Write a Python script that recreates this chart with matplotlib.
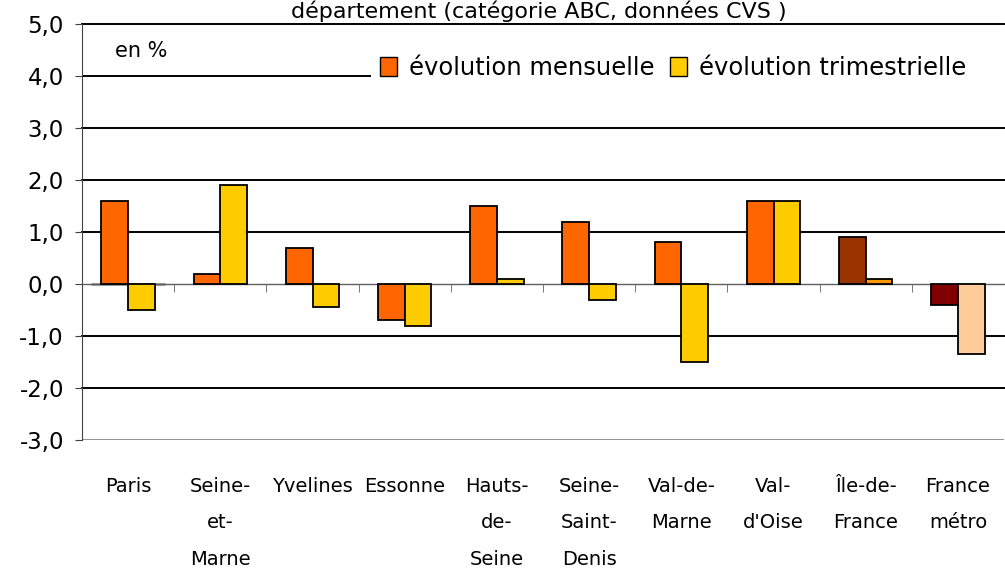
import matplotlib.pyplot as plt
import numpy as np

# Données (en %)
departements = ["Paris", "Seine-\net-\nMarne", "Yvelines", "Essonne",
                "Hauts-\nde-\nSeine", "Seine-\nSaint-\nDenis", "Val-de-\nMarne",
                "Val-\nd'Oise", "Île-de-\nFrance", "France\nmétro"]
evol_mensuelle = [1.6, 0.2, 0.7, -0.7, 1.5, 1.2, 0.8, 1.6, 0.9, -0.4]
evol_trimestrielle = [-0.5, 1.9, -0.45, -0.8, 0.1, -0.3, -1.5, 1.6, 0.1, -1.35]
y_ticks = [-3, -2, -1, 0, 1, 2, 3, 4, 5]

couleurs_m = ["#FF6600"] * 8 + ["#993300", "#800000"]
couleurs_t = ["#FFCC00"] * 8 + ["#FF9900", "#FFCC99"]

plt.rcParams['font.family'] = 'DejaVu Sans'

fig = plt.figure(figsize=(10.05, 5.72), dpi=100)
ax = fig.add_axes([82/1005, 1 - 440/572, 922/1005, 416/572])

x = np.arange(len(departements))
w = 0.29
ax.bar(x - w/2, evol_mensuelle, w, color=couleurs_m, edgecolor='black', lw=1.3, zorder=3)
ax.bar(x + w/2, evol_trimestrielle, w, color=couleurs_t, edgecolor='black', lw=1.3, zorder=3)

ax.set_xlim(-0.5, len(departements) - 0.5)
ax.set_ylim(-3, 5)

# grille horizontale (la ligne 4,0 s'arrête avant la légende)
for v in y_ticks:
    if v == 4:
        ax.axhline(v, xmax=0.312, color='black', lw=1.4, zorder=1)
    elif v not in (0, -3):
        ax.axhline(v, color='black', lw=1.4, zorder=1, clip_on=False)
ax.axhline(-3, color='#808080', lw=1.2, zorder=1)

for s in ['top', 'right']:
    ax.spines[s].set_visible(False)
ax.spines['left'].set_color('#404040')
ax.spines['bottom'].set_position(('data', 0))
ax.spines['bottom'].set_color('#606060')
ax.spines['bottom'].set_linewidth(1.0)

ax.set_yticks(y_ticks)
ax.set_yticklabels([f"{v:.1f}".replace('.', ',') for v in y_ticks], fontsize=16.5)
ax.tick_params(axis='y', length=5, pad=8, color='#404040')

ax.set_xticks(x)
ax.set_xticklabels(departements, fontsize=14, linespacing=2.15, va='top')
ax.tick_params(axis='x', which='major', length=0, pad=139)
ax.set_xticks(np.arange(len(departements) - 1) + 0.5, minor=True)
ax.tick_params(axis='x', which='minor', length=6, direction='out', color='#606060')

ax.text(0.036, 4.48, "en %", transform=ax.get_yaxis_transform(), fontsize=15,
        va='center', ha='left')

ax.bar([0], [0], color="#FF6600", edgecolor='black', label="évolution mensuelle")
ax.bar([0], [0], color="#FFCC00", edgecolor='black', label="évolution trimestrielle")
leg = ax.legend(loc='center right', bbox_to_anchor=(0.978, 0.894), ncol=2,
                fontsize=17.5, frameon=False,
                handlelength=0.7, handleheight=0.85,
                handletextpad=0.5, columnspacing=0.65, borderpad=0.2)
leg.set_zorder(5)

fig.text(0.536, 1 - 1/572, "département (catégorie ABC, données CVS )",
         fontsize=16, ha='center', va='top')

fig.savefig("out.png", dpi=100)
